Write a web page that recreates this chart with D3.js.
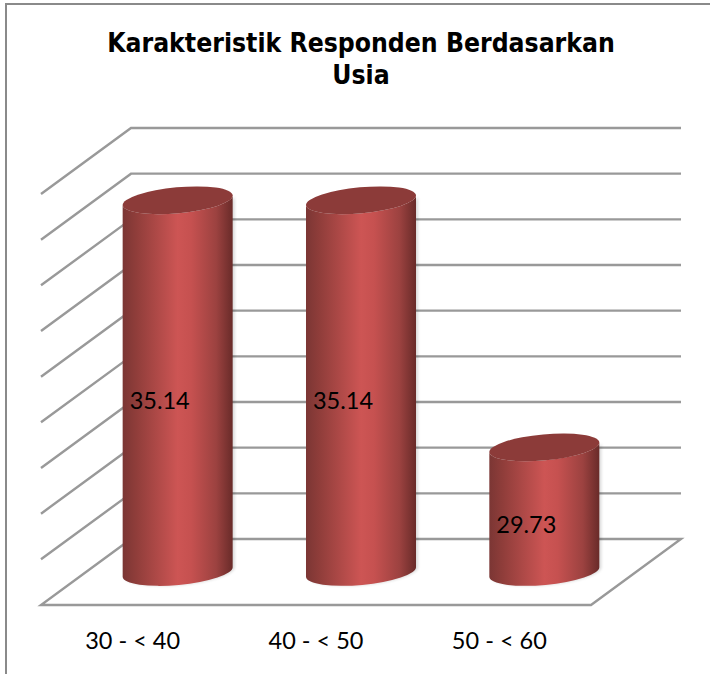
<!DOCTYPE html>
<html>

<head>
  <title>Karakteristik Responden Berdasarkan Usia</title>
  <script src="https://cdn.jsdelivr.net/npm/d3@7"></script>
  <style>
    html, body { margin: 0; padding: 0; background: #fff; }
    svg { display: block; }
    .grid { fill: none; stroke: #999; stroke-width: 2.4px; stroke-linejoin: miter; }
    .title { font-family: "DejaVu Sans", sans-serif; font-stretch: condensed; font-weight: 700; font-size: 26.3px; text-anchor: middle; fill: #000; }
    .label { font-family: Lato, sans-serif; font-size: 23.5px; fill: #000; }
  </style>
</head>

<body>
  <svg id="chart" width="710" height="674"></svg>

  <script>
    var categories = ['30 - < 40', '40 - < 50', '50 - < 60'];
    var values = [35.14, 35.14, 29.73];
    var yTicks = [27, 28, 29, 30, 31, 32, 33, 34, 35, 36];
    var titleLines = ['Karakteristik Responden Berdasarkan', 'Usia'];

    var svg = d3.select('#chart');

    //floor corners, the back wall is the front edge moved by depth
    var floorLeft = 41, floorRight = 591, floorFront = 605;
    var depthX = 90, depthY = 66;

    var x = d3.scaleBand().domain(categories).range([floorLeft, floorRight]);
    var yWall = d3.scaleLinear().domain([27, 36]).range([floorFront - depthY, 128]);

    //bars stand in the middle of the floor depth
    var yBar = d3.scaleLinear().domain([27, 36])
      .range([floorFront - depthY / 2, floorFront - depthY / 2 - (floorFront - depthY - 128)]);

    var barWidth = 110;
    var ry = 13, tilt = 5;  //half of the drop between left and right edge of the ellipse
    var rx = Math.sqrt(barWidth * barWidth / 4 + tilt * tilt);
    var rot = -Math.atan2(tilt, barWidth / 2) * 180 / Math.PI;

    var defs = svg.append('defs');
    var grad = defs.append('linearGradient').attr('id', 'barFill');
    [[0, '#7b3634'], [0.12, '#8f3d3a'], [0.5, '#cd5554'], [0.62, '#c65150'], [0.85, '#9c4240'], [1, '#692b29']]
      .forEach(d => grad.append('stop').attr('offset', d[0]).attr('stop-color', d[1]));
    var blur = defs.append('filter').attr('id', 'soft').attr('x', '-10%').attr('width', '120%');
    blur.append('feGaussianBlur').attr('stdDeviation', 1.5);

    //chart frame, only top and left show in the crop
    svg.append('path')
      .attr('d', 'M6,674V4H710')
      .attr('fill', 'none')
      .attr('stroke', '#8a8a8a')
      .attr('stroke-width', 2);

    svg.selectAll('.title')
      .data(titleLines)
      .enter()
      .append('text')
      .attr('class', 'title')
      .attr('x', 361)
      .attr('y', (d, i) => 52 + i * 32)
      .text(d => d);

    //wall gridlines with the side wall going down to the left
    svg.selectAll('.wall')
      .data(yTicks.slice(1))
      .enter()
      .append('path')
      .attr('class', 'grid wall')
      .attr('d', d => 'M' + floorLeft + ',' + (yWall(d) + depthY) +
        'L' + (floorLeft + depthX) + ',' + yWall(d) + 'H' + (floorRight + depthX));

    //floor
    svg.append('path')
      .attr('class', 'grid')
      .attr('d', 'M' + floorLeft + ',' + floorFront + 'H' + floorRight +
        'L' + (floorRight + depthX) + ',' + (floorFront - depthY) +
        'H' + (floorLeft + depthX) + 'Z');

    function body(d, i) {
      var cat = categories[i];
      var x0 = x(cat) + x.bandwidth() / 2 + depthX / 2 - barWidth / 2;
      var x1 = x0 + barWidth;
      var yt = yBar(d), yb = yBar(27);
      return 'M' + x0 + ',' + (yt + tilt) +
        'L' + x0 + ',' + (yb + tilt) +
        'A' + rx + ',' + ry + ' ' + rot + ' 0 0 ' + x1 + ',' + (yb - tilt) +
        'L' + x1 + ',' + (yt - tilt) +
        'A' + rx + ',' + ry + ' ' + rot + ' 0 1 ' + x0 + ',' + (yt + tilt) + 'Z';
    }

    var bars = svg.selectAll('.bar')
      .data(values)
      .enter()
      .append('g')
      .attr('class', 'bar');

    //soft shadow on the right of each cylinder
    bars.append('path')
      .attr('d', body)
      .attr('transform', 'translate(2,0)')
      .attr('fill', '#000')
      .attr('opacity', 0.15)
      .attr('filter', 'url(#soft)');

    bars.append('path')
      .attr('d', body)
      .attr('fill', 'url(#barFill)');

    bars.append('ellipse')
      .attr('rx', rx)
      .attr('ry', ry)
      .attr('transform', (d, i) => 'translate(' + (x(categories[i]) + x.bandwidth() / 2 + depthX / 2) + ',' + yBar(d) + ') rotate(' + rot + ')')
      .attr('fill', '#8c3b39');

    //value labels sit a bit left and below the middle of the bar
    bars.append('text')
      .attr('class', 'label')
      .attr('text-anchor', 'middle')
      .attr('x', (d, i) => x(categories[i]) + x.bandwidth() / 2 + depthX / 2 - 18)
      .attr('y', d => (yBar(d) + yBar(27)) / 2 + 23)
      .text(d => d.toFixed(2));

    //category axis along the front edge
    var axis = svg.append('g')
      .attr('transform', 'translate(0,' + floorFront + ')')
      .call(d3.axisBottom(x).tickSize(0).tickPadding(27));
    axis.select('.domain').remove();
    axis.selectAll('text')
      .attr('class', 'label')
      .style('font-family', 'Lato, sans-serif')
      .style('font-size', '23.5px')
      .attr('fill', '#000');
  </script>
</body>

</html>
